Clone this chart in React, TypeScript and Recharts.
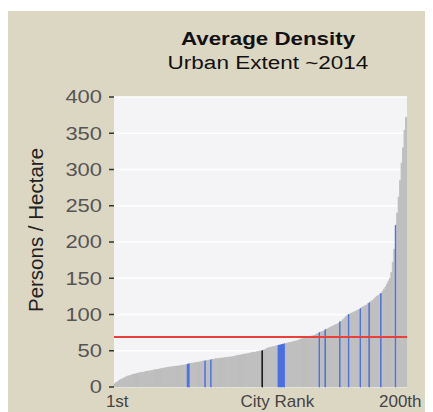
import React from 'react';
import { BarChart, Bar, XAxis, YAxis, CartesianGrid, ReferenceLine, Cell } from 'recharts';

// average density (persons / hectare), cities sorted by rank 1st..200th
const DENSITY = [
    4, 6, 7, 9, 10, 11, 12, 13, 14, 15,
    15.5, 16, 17, 17.5, 18, 18.5, 19, 19.5, 20, 20,
    20.5, 21, 21.5, 22, 22, 22.5, 23, 23.5, 24, 24,
    24.5, 25, 25.5, 26, 26, 26.5, 27, 27.5, 27.5, 28,
    28, 28.5, 28.5, 29, 29, 29.5, 30, 30, 30.5, 31,
    31.5, 32, 32.5, 33, 33, 33.5, 34, 34, 34.5, 35,
    35.5, 36, 36, 36.5, 37, 37, 37.5, 38, 38.5, 39,
    39, 39.5, 39.5, 40, 40, 40.5, 40.5, 41, 41, 41.5,
    41.5, 42, 42.5, 43, 43.5, 44, 44, 44.5, 45, 45.5,
    45.5, 46, 46.5, 47, 47.5, 48, 48, 48.5, 49, 49.5,
    50, 50, 51, 52, 53, 54, 54.5, 55, 55.5, 56,
    56.5, 57, 57.5, 58, 58.5, 59, 59.5, 60, 60.5, 61,
    61.5, 62, 62.5, 63, 63.5, 64, 65, 66, 66.5, 67,
    67.5, 68, 69, 69.5, 70, 70.5, 71, 72, 73, 74,
    75, 76, 76.5, 77.5, 79, 80, 81, 82, 83, 84,
    85, 86, 87, 88, 90, 91, 93, 95, 97, 99,
    100, 101, 102, 103, 104, 105, 106, 107, 108, 110,
    111, 112, 113, 115, 116, 118, 119, 121, 123, 125,
    126, 128, 129, 132, 135, 138, 142, 146, 150, 158,
    172, 190, 223, 240, 262, 285, 309, 330, 354, 372,
];

const BLUE_RANKS = [51, 52, 63, 67, 113, 114, 115, 116, 117, 141, 145, 155, 161, 169, 175, 183, 193];
const BLACK_RANKS = [102];
const X_LABELS: { [rank: number]: string } = { 1: '1st', 112: 'City Rank', 200: '200th' };
const Y_TICKS = [0, 50, 100, 150, 200, 250, 300, 350, 400];
const AVERAGE = 69;

const data = DENSITY.map((density, i) => ({ rank: i + 1, density }));

const barColor = (rank: number) => {
    if (BLUE_RANKS.includes(rank)) return '#4a6fe3';
    if (BLACK_RANKS.includes(rank)) return '#111111';
    return '#bebebe';
};

const YTick = (props: any) => {
    const { x, y, payload } = props;
    return (
        <text transform={`translate(${x},${y}) scale(1.22,1)`} textAnchor="end" dy="0.36em"
            fontSize={18} fill="#555" fontFamily="'Liberation Sans', Arial, sans-serif">
            {payload.value}
        </text>
    );
};

const XTick = (props: any) => {
    const { x, y, payload } = props;
    const label = X_LABELS[payload.value];
    if (!label) return <g />;
    // the end label sits a little inside the panel edge
    const shift = payload.value === 200 ? -6 : payload.value === 1 ? 2.5 : 0;
    return (
        <text x={x + shift} y={y} dy={12} textAnchor="middle" fontSize={17} fill="#444"
            fontFamily="'Liberation Sans', Arial, sans-serif">
            {label}
        </text>
    );
};

const App: React.FC = () => {
    return (
        <div style={{ position: 'relative', width: 425, height: 402, marginTop: 3, background: '#dcd7c3', fontFamily: "'Liberation Sans', Arial, sans-serif" }}>
            <div style={{ position: 'absolute', left: 259.5, top: 19, lineHeight: '18px', fontSize: 18, fontWeight: 'bold', color: '#111', whiteSpace: 'nowrap', transform: 'translateX(-50%) scaleX(1.24)' }}>
                Average Density
            </div>
            <div style={{ position: 'absolute', left: 259.5, top: 43, lineHeight: '18px', fontSize: 18, color: '#111', whiteSpace: 'nowrap', transform: 'translateX(-50%) scaleX(1.25)' }}>
                Urban Extent ~2014
            </div>
            <div style={{ position: 'absolute', left: 28, top: 219, fontSize: 20.5, lineHeight: '20px', color: '#222', whiteSpace: 'nowrap', transform: 'translate(-50%,-50%) rotate(-90deg)' }}>
                Persons / Hectare
            </div>
            <div style={{ position: 'absolute', left: 0, top: 0 }}>
                <BarChart width={425} height={402} data={data} barCategoryGap={0}
                    margin={{ top: 86, right: 26, bottom: 0, left: 0 }}>
                    <CartesianGrid vertical={false} stroke="#ffffff" strokeWidth={1.5} fill="#f4f4f6" />
                    <XAxis dataKey="rank" interval={0} tickLine={false} axisLine={false} height={26} tick={<XTick />} />
                    <YAxis domain={[0, 400]} ticks={Y_TICKS} width={106} axisLine={false} tickSize={5} tickMargin={7}
                        tickLine={{ stroke: '#333', strokeWidth: 1.5 }} tick={<YTick />} />
                    <Bar dataKey="density" isAnimationActive={false}>
                        {data.map((d) => (
                            <Cell key={`c-${d.rank}`} fill={barColor(d.rank)} stroke={barColor(d.rank)} strokeWidth={1} />
                        ))}
                    </Bar>
                    <ReferenceLine y={AVERAGE} stroke="#e8403a" strokeWidth={2} />
                </BarChart>
            </div>
        </div>
    );
};

export default App;
